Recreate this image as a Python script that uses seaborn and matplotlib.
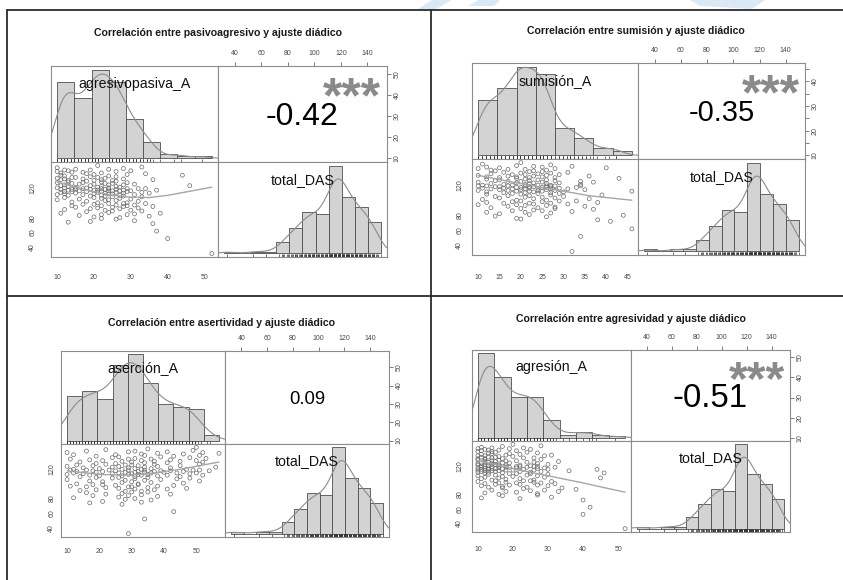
import numpy as np
import matplotlib
matplotlib.use("Agg")
import matplotlib.pyplot as plt
from matplotlib.lines import Line2D
from matplotlib.patches import Polygon
import seaborn as sns

sns.set_theme(style="white")
plt.rcParams["font.family"] = ["Liberation Sans", "DejaVu Sans"]

W, H = 843, 580

# total_DAS, shared by the four panels (sorted, grouped by tens)
das = [32, 52, 62,
       72, 74, 75, 76, 78, 79,
       80, 81, 82, 83, 84, 84, 85, 86, 86, 87, 88, 89, 89,
       90, 90, 91, 92, 92, 93, 93, 94, 94, 95, 95, 96, 96, 96, 97, 97, 98, 98, 99, 99, 99,
       100, 100, 101, 102, 102, 103, 103, 104, 104, 105, 105, 106, 106, 107, 107, 108, 108, 109, 109, 109,
       110, 110, 110, 111, 111, 111, 112, 112, 112, 112, 113, 113, 113, 113, 114, 114, 114, 114,
       115, 115, 115, 115, 115, 116, 116, 116, 116, 116, 117, 117, 117, 117, 117,
       118, 118, 118, 118, 118, 119, 119, 119, 119, 119, 119, 119,
       120, 120, 120, 120, 121, 121, 121, 122, 122, 122, 123, 123, 123, 124, 124, 124,
       125, 125, 125, 126, 126, 126, 127, 127, 127, 128, 128, 129, 129,
       130, 130, 130, 131, 131, 131, 132, 132, 132, 133, 133, 134, 134, 134, 135, 135,
       136, 136, 137, 137, 138, 138, 139, 139,
       140, 140, 141, 141, 142, 142, 143, 143, 144, 144, 145, 145, 146, 147, 148, 150]

x_pasivo = [52, 40, 37,
            36, 13, 19, 31, 26, 22,
            27, 20, 35, 16, 29, 22, 31, 11, 38, 24, 18, 33, 25,
            23, 30, 12, 27, 19, 32, 21, 25, 15, 28, 36, 22, 29, 14, 31, 26, 20, 17, 34, 28, 24,
            21, 29, 14, 32, 18, 23, 26, 10, 24, 30, 16, 22, 27, 12, 20, 33, 25, 19, 23, 28,
            22, 13, 27, 10, 31, 17, 24, 25, 12, 20, 28, 15, 35, 23, 11, 26, 21, 33, 14, 29,
            22, 18, 12, 25, 24, 30, 16, 27, 13, 21, 37, 20, 28, 11, 23, 19, 26, 14, 32, 22,
            15, 29, 24, 17, 34,
            12, 18, 24, 10, 27, 15, 21, 13, 26, 22, 46, 11, 19, 24, 28, 12, 20, 16, 31, 14,
            25, 23, 10, 29, 17, 22, 13, 26, 18,
            13, 20, 25, 36, 11, 22, 17, 12, 28, 10, 23, 15, 21, 14, 26, 19, 12, 24, 44, 11,
            29, 20, 18, 34,
            11, 22, 14, 17, 10, 26, 13, 30, 19, 12, 24, 15, 28, 10, 33, 21]

x_sumision = [32, 34, 46,
              41, 38, 20, 19, 26, 14,
              44, 22, 15, 27, 12, 21, 32, 25, 18, 23, 37, 28, 20,
              24, 13, 28, 17, 35, 21, 26, 10, 19, 31, 23, 27, 16, 22, 38, 12, 25, 18, 20, 33, 29,
              19, 26, 11, 23, 36, 28, 15, 21, 25, 14, 30, 22, 17, 27, 39, 20, 12, 29, 18, 24,
              21, 16, 27, 12, 30, 23, 46, 25, 19, 22, 10, 28, 17, 24, 35, 20, 26, 15, 31, 21,
              13, 27, 18, 22, 29, 11, 24, 16, 26, 33, 20, 25, 19, 14, 23, 27, 15, 22, 28, 12,
              34, 21, 26, 17, 10,
              18, 24, 11, 27, 34, 21, 16, 26, 22, 13, 29, 19, 23, 37, 25, 10, 20, 17, 34, 28,
              22, 14, 24, 15, 26, 21, 12, 43, 19,
              22, 15, 28, 12, 25, 19, 23, 36, 17, 26, 10, 21, 29, 18, 24, 13, 27, 20, 16, 31,
              22, 25, 14, 23,
              13, 26, 17, 21, 10, 28, 40, 15, 25, 12, 23, 32, 19, 27, 11, 20]

x_asercion = [29, 34, 43,
              27, 17, 33, 21, 36, 28,
              31, 12, 26, 38, 18, 29, 33, 42, 22, 27, 16, 35, 30,
              28, 33, 14, 37, 19, 41, 31, 26, 47, 22, 35, 16, 30, 29, 11, 38, 25, 43, 32, 18, 21,
              32, 13, 46, 27, 36, 21, 30, 51, 17, 34, 28, 39, 10, 44, 31, 24, 48, 35, 19, 26,
              31, 14, 45, 27, 38, 20, 52, 33, 17, 41, 29, 35, 10, 32, 48, 24, 30, 15, 44, 26,
              36, 50, 12, 34, 19, 28, 40, 31, 46, 21, 37, 13, 32, 54, 25, 39, 18, 42, 34, 29,
              11, 49, 23, 16, 51,
              33, 12, 27, 47, 20, 36, 31, 15, 42, 29, 56, 24, 34, 10, 38, 26, 18, 32, 45, 28,
              13, 30, 51, 22, 37, 19, 25, 41, 34,
              30, 52, 14, 37, 27, 45, 21, 33, 50, 17, 42, 29, 36, 11, 53, 31, 24, 48, 26, 39,
              19, 43, 34, 51,
              25, 12, 46, 33, 57, 38, 10, 52, 29, 41, 16, 31, 49, 22, 35, 50]

x_agresion = [52, 40, 42,
              40, 22, 11, 31, 17, 27,
              16, 27, 12, 21, 33, 18, 25, 14, 29, 38, 23, 34, 17,
              13, 24, 17, 30, 11, 27, 19, 22, 15, 32, 12, 28, 16, 21, 18, 26, 10, 31, 23, 15, 25,
              14, 26, 18, 11, 22, 45, 16, 29, 12, 20, 17, 27, 10, 24, 15, 30, 13, 21, 19, 25,
              46, 12, 17, 10, 25, 13, 22, 15, 11, 28, 14, 16, 36, 12, 20, 10, 26, 18, 44, 13,
              30, 11, 23, 15, 12, 27, 17, 14, 21, 16, 10, 29, 13, 19, 24, 11, 32, 18, 26, 12,
              22, 16, 14, 27, 21,
              11, 18, 13, 25, 10, 16, 22, 12, 30, 15, 14, 27, 10, 19, 11, 17, 24, 13, 26, 12,
              15, 33, 14, 18, 21, 10, 16, 28, 12,
              12, 17, 10, 23, 14, 26, 11, 15, 13, 20, 16, 10, 29, 12, 18, 31, 11, 22, 14, 19,
              13, 27, 15, 24,
              10, 14, 21, 11, 16, 13, 25, 12, 10, 19, 23, 14, 11, 17, 28, 20]

# smoothed trend lines
smooth_x = [[10, 15, 20, 25, 30, 35, 40, 45, 52],
            [10, 20, 28, 36, 46],
            [10, 20, 28, 35, 45, 57],
            [10, 15, 20, 25, 30, 35, 40, 45, 52]]
smooth_y = [[128, 121, 115, 110, 107.5, 107, 110, 114.5, 121],
            [133, 122, 114, 106, 100],
            [118, 113, 112, 114, 120, 130],
            [127, 122, 116, 111, 106, 101, 96, 90.5, 83]]

titles = ["Correlación entre pasivoagresivo y ajuste diádico",
          "Correlación entre sumisión y ajuste diádico",
          "Correlación entre asertividad y ajuste diádico",
          "Correlación entre agresividad y ajuste diádico"]
var_names = ["agresivopasiva_A", "sumisión_A", "aserción_A", "agresión_A"]
x_data = [x_pasivo, x_sumision, x_asercion, x_agresion]
corr_text = ["-0.42", "-0.35", "0.09", "-0.51"]
corr_stars = ["***", "***", "", "***"]
x_breaks = [(10, 55, 5), (10, 50, 5), (10, 60, 5), (10, 55, 5)]
das_breaks = (30, 150, 10)

bottom_ticks = [[10, 20, 30, 40, 50], [10, 15, 20, 25, 30, 35, 40, 45],
                [10, 20, 30, 40, 50], [10, 20, 30, 40, 50]]
right_ticks = [[10, 20, 30, 40, 50], [10, 15, 20, 25, 30, 35, 40, 45],
               [10, 20, 30, 40, 50], [10, 20, 30, 40, 50]]
right_labels = [["10", "20", "30", "40", "50"], ["10", "", "20", "", "30", "", "40", ""],
                ["10", "20", "30", "40", "50"], ["10", "20", "30", "40", "50"]]
top_ticks = [40, 60, 80, 100, 120, 140]
left_ticks = [40, 60, 80, 100, 120, 140]
left_labels = ["40", "60", "80", "", "120", ""]

# layout in pixels: left, middle, right, top, middle, bottom of each 2x2 block
boxes = [(51, 218, 387, 66, 162, 257),
         (472, 638, 805, 63, 159, 255),
         (61, 225, 389, 351, 444, 537),
         (472, 631, 790, 350, 441, 532)]
title_pos = [(218, 33), (636, 31), (221, 323), (631, 319)]
corr_px = [32, 29, 18.5, 33]
star_px = [50, 50, 50, 48]
left_pad = [8, 3.7, 1.5, 3.7]
bottom_pad = [10, 11, 5.6, 7.7]

bar_face = "#d3d3d3"
bar_edge = "#4d4d4d"
dens_col = "#8c8c8c"
spine_col = "#8c8c8c"
tick_col = "#666666"
lab_col = "#4a4a4a"

fig = plt.figure(figsize=(W / 100, H / 100), dpi=100)


def px_rect(x0, x1, y0, y1):
    return [x0 / W, 1 - y1 / H, (x1 - x0) / W, (y1 - y0) / H]


def pad_lim(vals, f=0.04):
    lo, hi = min(vals), max(vals)
    return lo - f * (hi - lo), hi + f * (hi - lo)


def nrd0_factor(vals):
    # R's default density bandwidth, as a factor of the std
    v = np.asarray(vals, float)
    sd = v.std(ddof=1)
    q75, q25 = np.percentile(v, [75, 25])
    return 0.9 * min(sd, (q75 - q25) / 1.34) * len(v) ** -0.2 / sd


def style(ax):
    for s in ax.spines.values():
        s.set_color(spine_col)
        s.set_linewidth(0.8)
    ax.tick_params(length=2.6, width=0.6, color=tick_col, labelcolor=lab_col,
                   labelsize=5, direction="out")


def hist_cell(ax, vals, brk, label):
    lo, hi, step = brk
    edges = np.arange(lo, hi + step / 2, step)
    sns.histplot(x=vals, bins=edges, stat="density", color=bar_face, edgecolor=bar_edge,
                 linewidth=0.6, alpha=1, ax=ax)
    sns.kdeplot(x=vals, bw_method=nrd0_factor(vals), cut=3, color=dens_col,
                linewidth=0.8, ax=ax)
    sns.rugplot(x=vals, height=0.035, color="#333333", linewidth=0.5, ax=ax)
    dens, _ = np.histogram(vals, bins=edges, density=True)
    m = dens.max()
    ax.set_xlim(lo - 0.04 * (hi - lo), hi + 0.04 * (hi - lo))
    ax.set_ylim(-0.04 * m, 1.04 * m)
    ax.set_xticks([])
    ax.set_yticks([])
    ax.set_xlabel("")
    ax.set_ylabel("")
    ax.text(0.5, 0.815, label, transform=ax.transAxes, ha="center", va="center",
            fontsize=10.2, color="#111111")
    style(ax)


das_lim = pad_lim(das)

for i in range(4):
    x0, xm, x1, y0, ym, y1 = boxes[i]
    xv = x_data[i]
    x_lim = pad_lim(xv)

    ax_h1 = fig.add_axes(px_rect(x0, xm, y0, ym))
    ax_c = fig.add_axes(px_rect(xm, x1, y0, ym))
    ax_s = fig.add_axes(px_rect(x0, xm, ym, y1))
    ax_h2 = fig.add_axes(px_rect(xm, x1, ym, y1))

    hist_cell(ax_h1, xv, x_breaks[i], var_names[i])
    hist_cell(ax_h2, das, das_breaks, "total_DAS")

    # scatter with smooth line
    sns.scatterplot(x=xv, y=das, ax=ax_s, s=8, marker="o", fc="none",
                    ec="#6a6a6a", linewidth=0.5, legend=False)
    sns.lineplot(x=smooth_x[i], y=smooth_y[i], ax=ax_s, color="#a6a6a6",
                 linewidth=1.0, sort=False, estimator=None)
    ax_s.set_xlim(x_lim)
    ax_s.set_ylim(das_lim)
    ax_s.set_xticks(bottom_ticks[i])
    ax_s.set_xticklabels([str(t) for t in bottom_ticks[i]])
    ax_s.set_yticks(left_ticks)
    ax_s.set_yticklabels(left_labels, rotation=90, va="center")
    ax_s.set_xlabel("")
    ax_s.set_ylabel("")
    style(ax_s)
    ax_s.tick_params(axis="x", pad=bottom_pad[i])
    ax_s.tick_params(axis="y", pad=left_pad[i])

    # correlation cell
    ax_c.set_xlim(das_lim)
    ax_c.set_ylim(x_lim)
    ax_c.xaxis.tick_top()
    ax_c.set_xticks(top_ticks)
    ax_c.set_xticklabels([str(t) for t in top_ticks])
    ax_c.yaxis.tick_right()
    ax_c.set_yticks(right_ticks[i])
    ax_c.set_yticklabels(right_labels[i], rotation=90, va="center")
    style(ax_c)
    ax_c.tick_params(axis="x", pad=4)
    ax_c.tick_params(axis="y", pad=2)

    cell_h = ym - y0
    fs = corr_px[i]
    ax_c.text(0.5, 0.5 - 0.358 * fs / cell_h, corr_text[i], transform=ax_c.transAxes,
              ha="center", va="baseline", fontsize=fs * 0.72, color="#000000")
    if corr_stars[i]:
        sfs = star_px[i]
        ax_c.text(0.795, 0.82 - 0.58 * sfs / cell_h, corr_stars[i], transform=ax_c.transAxes,
                  ha="center", va="baseline", fontsize=sfs * 0.72, fontweight="bold",
                  color="#8a8a8a")

    tx, ty = title_pos[i]
    fig.text(tx / W, 1 - ty / H, titles[i], ha="center", va="center",
             fontsize=7.6, fontweight="bold", color="#1a1a1a")

# faint watermark shapes above the table
marks = [[(418, 9), (432, 0), (452, 0), (436, 9)],
         [(468, 6), (478, 0), (500, 0), (494, 6)],
         [(690, 0), (765, 0), (752, 9), (700, 6)]]
for pts in marks:
    fig.add_artist(Polygon([(x / W, 1 - y / H) for x, y in pts], closed=True,
                           transform=fig.transFigure, facecolor="#dbe9f6",
                           edgecolor="none", zorder=0))

# outer frame of the 2x2 table
frame = [((7, 843), (10, 10)), ((7, 843), (296, 296)),
         ((7, 7), (10, 580)), ((431, 431), (10, 580))]
for xs, ys in frame:
    fig.add_artist(Line2D([x / W for x in xs], [1 - y / H for y in ys],
                          color="#2b2b2b", linewidth=1.3))

fig.savefig("out.png", dpi=100)
